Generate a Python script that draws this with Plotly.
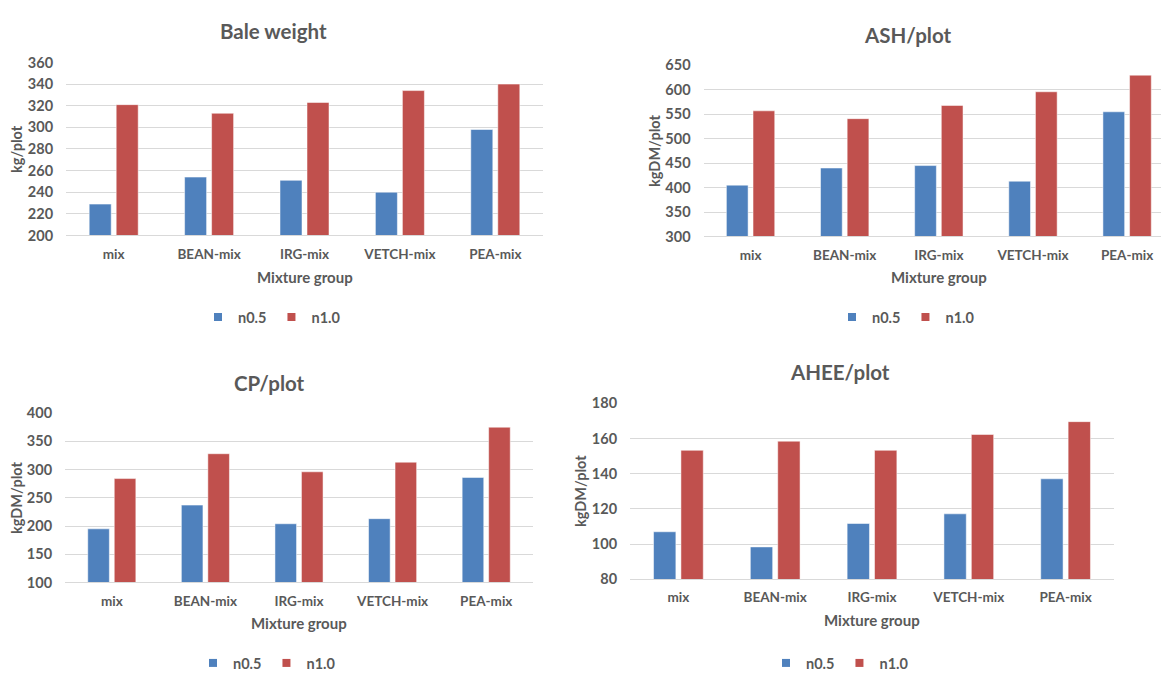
import plotly.graph_objects as go

W, H = 1161, 679

categories = ["mix", "BEAN-mix", "IRG-mix", "VETCH-mix", "PEA-mix"]
series_names = ["n0.5", "n1.0"]

bale_n05 = [229, 254, 251, 240, 298]
bale_n10 = [321, 313, 323, 334, 340]
ash_n05 = [405, 440, 445, 413, 555]
ash_n10 = [557, 541, 568, 596, 630]
cp_n05 = [195, 237, 204, 213, 286]
cp_n10 = [284, 328, 296, 313, 375]
ahee_n05 = [107, 98.4, 111.7, 117.2, 137.1]
ahee_n10 = [153.3, 158.5, 153.3, 162.3, 169.6]

titles = ["Bale weight", "ASH/plot", "CP/plot", "AHEE/plot"]
y_titles = ["kg/plot", "kgDM/plot", "kgDM/plot", "kgDM/plot"]
x_title = "Mixture group"

BLUE = "#4F81BD"
RED = "#C0504D"
TXT = "#595959"
GRID = "#D9D9D9"
FONT = "Lato"

def px(x):
    return x / W

def py(y):
    return 1 - y / H

# panel geometry (pixels): plot box, title, y-title, x-title, legend centre
panels = [
    dict(data=(bale_n05, bale_n10), box=(66, 543, 55, 233), yr=(200, 360), dt=20,
         xr=(-0.5, 4.5), title=(273, 23), ytit=(17, 144), xtit=(304.5, 276), leg=(272, 317)),
    dict(data=(ash_n05, ash_n10), box=(703.5, 1161, 58, 234), yr=(300, 650), dt=50,
         xr=(-0.5, 4.36), title=(908, 27), ytit=(655, 146), xtit=(939, 276), leg=(906, 317)),
    dict(data=(cp_n05, cp_n10), box=(65, 533, 415.7, 590), yr=(100, 400), dt=50,
         xr=(-0.5, 4.5), title=(269.5, 385), ytit=(17, 503), xtit=(299, 632), leg=(267, 673)),
    dict(data=(ahee_n05, ahee_n10), box=(630, 1114, 405.7, 586.7), yr=(80, 180), dt=20,
         xr=(-0.5, 4.5), title=(840, 373), ytit=(580, 496), xtit=(872, 629), leg=(840, 673)),
]

fig = go.Figure()
annotations = []
layout_extra = {}

for i, p in enumerate(panels):
    n = "" if i == 0 else str(i + 1)
    xa, ya = "x" + n, "y" + n
    legname = "legend" + n
    for s, (vals, col) in enumerate(zip(p["data"], (BLUE, RED))):
        fig.add_trace(go.Bar(
            x=categories, y=vals, name=series_names[s], xaxis=xa, yaxis=ya,
            marker=dict(color=col, line=dict(color="rgba(255,255,255,0.5)", width=1)),
            showlegend=False, offsetgroup=str(s),
        ))
        # legend entry with small square glyph
        fig.add_trace(go.Scatter(
            x=[None], y=[None], mode="markers", name=series_names[s],
            marker=dict(symbol="square", size=8, color=col),
            xaxis=xa, yaxis=ya, legend=legname, showlegend=True,
        ))
    x0, x1, y0, y1 = p["box"]
    layout_extra["xaxis" + n] = dict(
        domain=[px(x0), px(x1)], anchor=ya, type="category", range=list(p["xr"]),
        showgrid=False, showline=True, linecolor=GRID, linewidth=1,
        ticks="outside", ticklen=6, tickcolor="rgba(0,0,0,0)",
        tickfont=dict(family=FONT, size=13.5, color=TXT, weight="bold"),
        fixedrange=True,
    )
    layout_extra["yaxis" + n] = dict(
        domain=[py(y1), py(y0)], anchor=xa, range=list(p["yr"]), dtick=p["dt"],
        showgrid=True, gridcolor=GRID, gridwidth=1, zeroline=False, showline=False,
        ticks="outside", ticklen=9, tickcolor="rgba(0,0,0,0)",
        tickfont=dict(family=FONT, size=14.5, color=TXT, weight="bold"),
        fixedrange=True,
    )
    lx, ly = p["leg"]
    layout_extra[legname] = dict(
        orientation="h", x=px(lx), y=py(ly), xanchor="center", yanchor="middle",
        xref="paper", yref="paper", bgcolor="rgba(0,0,0,0)",
        font=dict(family=FONT, size=14.5, color=TXT, weight="bold"),
        itemwidth=30, tracegroupgap=0,
    )
    tx, ty = p["title"]
    annotations.append(dict(text=titles[i], x=px(tx), y=py(ty), xref="paper", yref="paper",
                            showarrow=False, xanchor="center", yanchor="middle",
                            font=dict(family=FONT, size=20.5, color=TXT, weight="bold")))
    yx, yy = p["ytit"]
    annotations.append(dict(text=y_titles[i], x=px(yx), y=py(yy), xref="paper", yref="paper",
                            showarrow=False, xanchor="center", yanchor="middle", textangle=-90,
                            font=dict(family=FONT, size=14.5, color=TXT, weight="bold")))
    xx, xy = p["xtit"]
    annotations.append(dict(text=x_title, x=px(xx), y=py(xy), xref="paper", yref="paper",
                            showarrow=False, xanchor="center", yanchor="middle",
                            font=dict(family=FONT, size=15, color=TXT, weight="bold")))

fig.update_layout(
    width=W, height=H, autosize=False,
    margin=dict(l=0, r=0, t=0, b=0, pad=0),
    paper_bgcolor="white", plot_bgcolor="white",
    barmode="group", bargap=0.434, bargroupgap=0.185,
    annotations=annotations,
    font=dict(family=FONT, color=TXT),
    **layout_extra,
)

fig.write_html("out.html", config={"displayModeBar": False},
               post_script="document.body.style.margin='0';document.body.style.overflow='hidden';")
